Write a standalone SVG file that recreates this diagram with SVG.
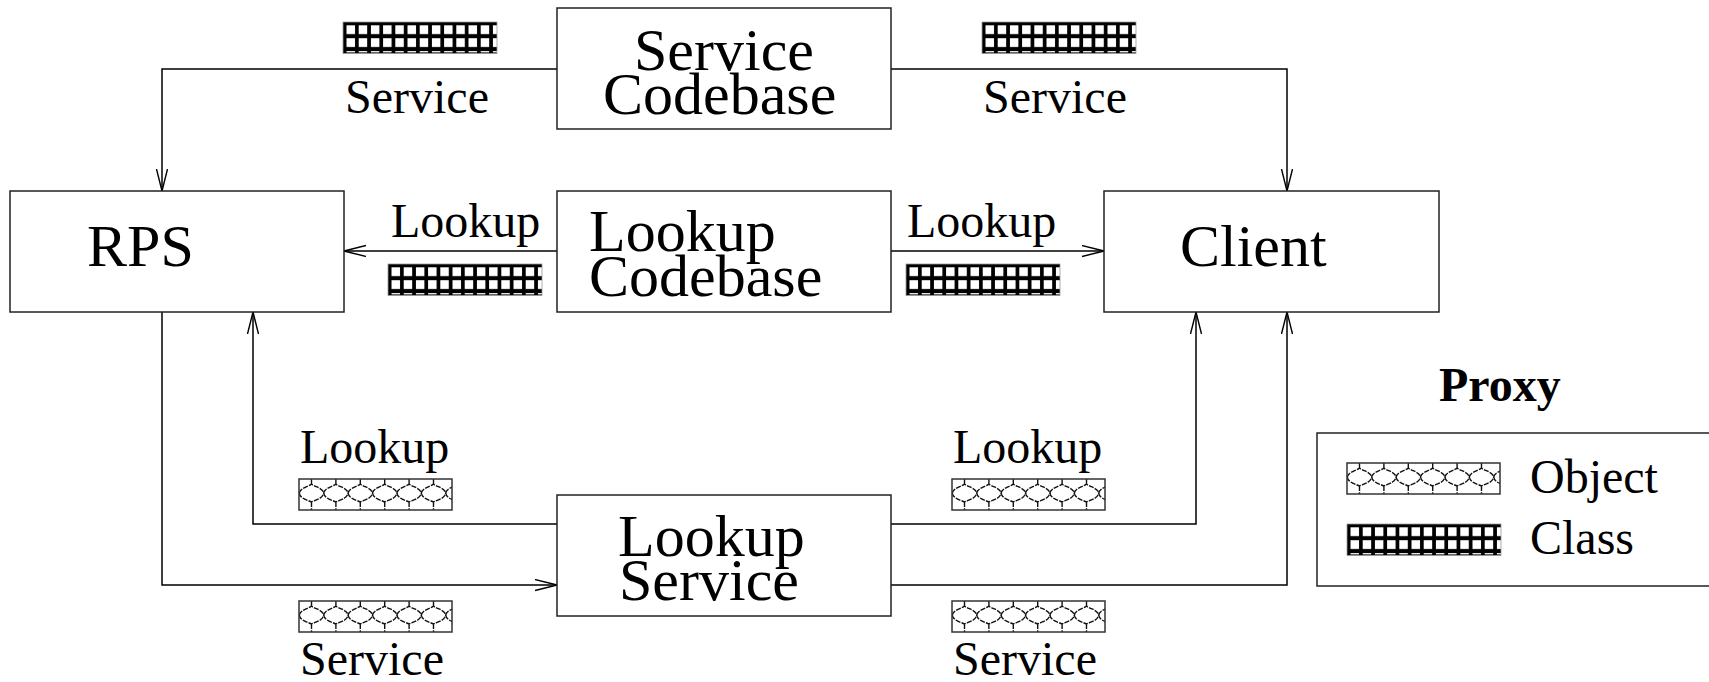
<svg xmlns="http://www.w3.org/2000/svg" xmlns:xlink="http://www.w3.org/1999/xlink" width="1709" height="682" viewBox="0 0 1709 682">
  <style>
    .box { fill: #fff; stroke: #222; stroke-width: 1.5; }
    .big { font-family: "Liberation Serif", "Times New Roman", serif; font-size: 60px; fill: #000; }
    .lbl { font-family: "Liberation Serif", "Times New Roman", serif; font-size: 48px; fill: #000; }
    .bold { font-weight: bold; }
    .wire { fill: none; stroke: #000; stroke-width: 1.5; }
    .scale { fill: none; stroke: #111; stroke-width: 1.4; stroke-dasharray: 5 1.2; }
  </style>
  <defs>
    <marker id="arrow" markerUnits="userSpaceOnUse" markerWidth="24" markerHeight="13" refX="22" refY="6" orient="auto">
      <path d="M0,0.5 L22,6 L0,11.5" fill="none" stroke="#000" stroke-width="1.4"/>
    </marker>
    <pattern id="gridCell" patternUnits="userSpaceOnUse" x="3.5" y="3.3" width="12.2" height="12.9">
      <rect x="0" y="0" width="8.5" height="8.8" fill="#fff"/>
    </pattern>
    <clipPath id="stripClip">
      <rect x="0" y="0" width="153" height="31"/>
    </clipPath>
    <!-- proxy class swatch: black grid -->
    <g id="classStrip">
      <rect x="0" y="0" width="154" height="31.5" fill="#000"/>
      <rect x="0" y="0" width="154" height="30.4" fill="url(#gridCell)"/>
      <rect x="0" y="0" width="154" height="31.5" fill="none" stroke="#999" stroke-width="0.8"/>
    </g>
    <!-- proxy object swatch: fish scales -->
    <g id="scaleCell">
      <path class="scale" d="M0,0 V5 M-12.2,14 C-11,8.5 -3,8 0,5 C3,8 11,8.5 12.2,14 M-12.2,14 C-11.5,19.5 -4,21 0,23 C4,21 11.5,19.5 12.2,14 M0,23 V31"/>
    </g>
    <g id="objectStrip">
      <rect x="0" y="0" width="153" height="31" fill="#fff"/>
      <g clip-path="url(#stripClip)">
        <use xlink:href="#scaleCell" x="12.5"/>
        <use xlink:href="#scaleCell" x="36.9"/>
        <use xlink:href="#scaleCell" x="61.3"/>
        <use xlink:href="#scaleCell" x="85.7"/>
        <use xlink:href="#scaleCell" x="110.1"/>
        <use xlink:href="#scaleCell" x="134.5"/>
        <use xlink:href="#scaleCell" x="158.9"/>
      </g>
      <rect x="0" y="0" width="153" height="31" fill="none" stroke="#333" stroke-width="1.5"/>
    </g>
  </defs>

  <rect x="0" y="0" width="1709" height="682" fill="#fff"/>

  <!-- connectors -->
  <g id="connectors">
    <path class="wire" d="M557,69 H162 V191" marker-end="url(#arrow)"/>
    <path class="wire" d="M891,69 H1287 V191" marker-end="url(#arrow)"/>
    <path class="wire" d="M557,251 H344" marker-end="url(#arrow)"/>
    <path class="wire" d="M891,251 H1104" marker-end="url(#arrow)"/>
    <path class="wire" d="M162,312 V585 H557" marker-end="url(#arrow)"/>
    <path class="wire" d="M557,524 H253 V312" marker-end="url(#arrow)"/>
    <path class="wire" d="M891,524 H1196 V312" marker-end="url(#arrow)"/>
    <path class="wire" d="M891,585 H1287 V312" marker-end="url(#arrow)"/>
  </g>

  <!-- connector labels with proxy swatches -->
  <g id="edge-labels">
    <use xlink:href="#classStrip" x="343" y="22"/>
    <text class="lbl" x="345" y="113">Service</text>
    <use xlink:href="#classStrip" x="982" y="22"/>
    <text class="lbl" x="983" y="113">Service</text>

    <text class="lbl" x="391" y="237">Lookup</text>
    <use xlink:href="#classStrip" x="388" y="264"/>
    <text class="lbl" x="907" y="237">Lookup</text>
    <use xlink:href="#classStrip" x="906" y="264"/>

    <text class="lbl" x="300" y="463">Lookup</text>
    <use xlink:href="#objectStrip" x="299" y="479"/>
    <text class="lbl" x="953" y="463">Lookup</text>
    <use xlink:href="#objectStrip" x="952" y="479"/>

    <use xlink:href="#objectStrip" x="299" y="601"/>
    <text class="lbl" x="300" y="675">Service</text>
    <use xlink:href="#objectStrip" x="952" y="601"/>
    <text class="lbl" x="953" y="675">Service</text>
  </g>

  <!-- nodes -->
  <g id="service-codebase">
    <rect class="box" x="557" y="8" width="334" height="121"/>
    <text class="big" x="634" y="70">Service</text>
    <text class="big" x="603" y="114">Codebase</text>
  </g>
  <g id="lookup-codebase">
    <rect class="box" x="557" y="191" width="334" height="121"/>
    <text class="big" x="589" y="251">Lookup</text>
    <text class="big" x="589" y="296">Codebase</text>
  </g>
  <g id="rps">
    <rect class="box" x="10" y="191" width="334" height="121"/>
    <text class="big" x="87" y="266">RPS</text>
  </g>
  <g id="client">
    <rect class="box" x="1104" y="191" width="335" height="121"/>
    <text class="big" x="1180" y="266">Client</text>
  </g>
  <g id="lookup-service">
    <rect class="box" x="557" y="495" width="334" height="121"/>
    <text class="big" x="618" y="556">Lookup</text>
    <text class="big" x="619" y="600">Service</text>
  </g>

  <!-- legend -->
  <g id="legend">
    <text class="lbl bold" x="1439" y="401">Proxy</text>
    <rect class="box" x="1317" y="433" width="410" height="153"/>
    <use xlink:href="#objectStrip" x="1347" y="463"/>
    <text class="lbl" x="1530" y="493">Object</text>
    <use xlink:href="#classStrip" x="1347" y="524"/>
    <text class="lbl" x="1530" y="554">Class</text>
  </g>
</svg>
